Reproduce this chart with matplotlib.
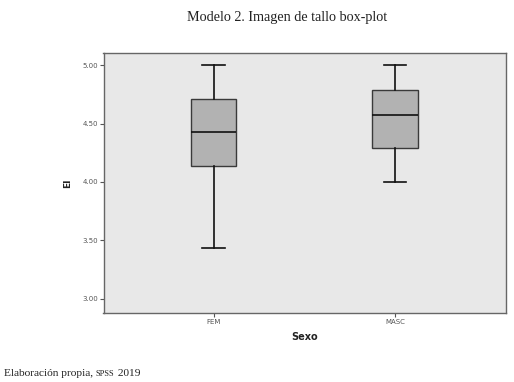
import matplotlib
matplotlib.use("Agg")
import matplotlib.pyplot as plt

# box-plot values
groups = ["FEM", "MASC"]
whislo = [3.43, 4.00]
q1 = [4.14, 4.29]
med = [4.43, 4.57]
q3 = [4.71, 4.79]
whishi = [5.00, 5.00]
yticks = [3.00, 3.50, 4.00, 4.50, 5.00]

fig = plt.figure(figsize=(5.14, 3.82), dpi=100)
ax = fig.add_axes([103.5 / 514, 1 - 313 / 382, 402.5 / 514, 260.3 / 382])
ax.set_facecolor("#e8e8e8")

stats = []
for i in range(len(groups)):
    stats.append({"label": groups[i], "whislo": whislo[i], "q1": q1[i], "med": med[i],
                  "q3": q3[i], "whishi": whishi[i], "fliers": []})

ax.bxp(stats, positions=[1, 2], widths=0.25, patch_artist=True, showfliers=False,
       boxprops=dict(facecolor="#b2b2b2", edgecolor="#3a3a3a", linewidth=1.0),
       medianprops=dict(color="#111111", linewidth=1.2),
       whiskerprops=dict(color="#111111", linewidth=1.2),
       capprops=dict(color="#111111", linewidth=1.2),
       capwidths=0.125)

ax.set_xlim(0.392, 2.612)
ax.set_ylim(2.877, 5.108)
ax.set_yticks(yticks)
ax.set_yticklabels(["%.2f" % v for v in yticks])
ax.set_xticks([1, 2])
ax.set_xticklabels(groups)
ax.tick_params(axis="both", labelsize=5, colors="#555555", length=3, width=0.8, pad=1)
for s in ax.spines.values():
    s.set_color("#666666")
    s.set_linewidth(1.0)

ax.set_ylabel("EI", fontsize=6.5, fontweight="bold", color="#222222", labelpad=7)
ax.set_xlabel("Sexo", fontsize=7, fontweight="bold", color="#222222", labelpad=5)

fig.text(287 / 514, 1 - 17 / 382, "Modelo 2. Imagen de tallo box-plot",
         family="Liberation Serif", fontsize=10.2, ha="center", va="center", color="#222222")
yb = 1 - 376 / 382
t = fig.text(4 / 514, yb, "Elaboración propia, ", family="Liberation Serif",
             fontsize=8.2, ha="left", va="baseline", color="#222222")
fig.canvas.draw()
bb = t.get_window_extent()
t2 = fig.text(bb.x1 / 514, yb, "SPSS", family="Liberation Serif",
              fontsize=6, ha="left", va="baseline", color="#222222")
fig.canvas.draw()
bb2 = t2.get_window_extent()
fig.text(bb2.x1 / 514, yb, " 2019", family="Liberation Serif",
         fontsize=8.2, ha="left", va="baseline", color="#222222")

fig.savefig("out.png", dpi=100)
